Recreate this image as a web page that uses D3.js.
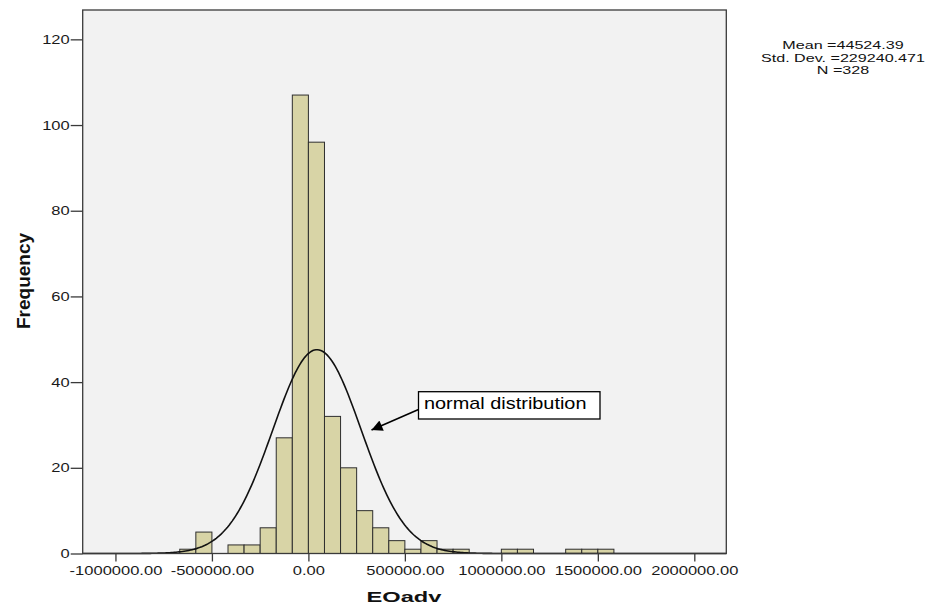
<!DOCTYPE html>
<html>
<head>
<meta charset="utf-8">
<script src="https://cdn.jsdelivr.net/npm/d3@7"></script>
<style>
  html, body { margin: 0; padding: 0; background: #ffffff; }
  svg { display: block; font-family: "Liberation Sans", Arial, sans-serif; }
</style>
</head>
<body>
<svg id="chart" width="934" height="612"></svg>
<script>
// Histogram of EOadv with fitted normal curve
const binWidth = 500000 / 6;
const binIndex = [-8, -7, -6, -5, -4, -3, -2, -1, 0, 1, 2, 3, 4, 5, 6, 7, 8, 9, 10, 11, 12, 13, 14, 15, 16, 17, 18];
const counts   = [ 1,  5,  0,  2,  2,  6, 27, 107, 96, 32, 20, 10, 6, 3, 1, 3, 1, 1, 0, 0, 1, 1, 0, 0, 1, 1, 1];
const xTicks = [-1000000, -500000, 0, 500000, 1000000, 1500000, 2000000];
const yTicks = [0, 20, 40, 60, 80, 100, 120];
const stats = { mean: 44524.39, sd: 229240.471, n: 328 };
const statLines = ["Mean =44524.39", "Std. Dev. =229240.471", "N =328"];
const xTitle = "EOadv";
const yTitle = "Frequency";
const noteText = "normal distribution";

const svg = d3.select("#chart");
const plot = { left: 82.7, right: 726.3, top: 10, bottom: 553.5 };

const x = d3.scaleLinear().domain([-1169700, 2165800]).range([plot.left, plot.right]);
const y = d3.scaleLinear().domain([0, 126.85]).range([plot.bottom, plot.top]);

// stretch text horizontally to the wide look of the original renderer
function widen(sel, k) {
  sel.each(function () {
    const w = this.getComputedTextLength();
    d3.select(this).attr("textLength", w * k).attr("lengthAdjust", "spacingAndGlyphs");
  });
}

// plot area
svg.append("rect")
  .attr("x", plot.left).attr("y", plot.top)
  .attr("width", plot.right - plot.left).attr("height", plot.bottom - plot.top)
  .attr("fill", "#f2f2f2");

// bars
const bins = binIndex.map((b, i) => ({ x0: b * binWidth, x1: (b + 1) * binWidth, n: counts[i] }))
  .filter(d => d.n > 0);
svg.append("g").selectAll("rect").data(bins).join("rect")
  .attr("x", d => x(d.x0))
  .attr("y", d => y(d.n))
  .attr("width", d => x(d.x1) - x(d.x0))
  .attr("height", d => y(0) - y(d.n))
  .attr("fill", "#d8d4a6")
  .attr("stroke", "#2e2e2e")
  .attr("stroke-width", 1);

// fitted normal curve, scaled to counts per bin
const scaleN = stats.n * binWidth / (stats.sd * Math.sqrt(2 * Math.PI));
const xs = d3.range(0, 401).map(i => x.invert(plot.left + (plot.right - plot.left) * i / 400));
const curve = xs.map(v => [v, scaleN * Math.exp(-0.5 * ((v - stats.mean) / stats.sd) ** 2)]);
svg.append("path")
  .datum(curve)
  .attr("fill", "none")
  .attr("stroke", "#111")
  .attr("stroke-width", 1.6)
  .attr("d", d3.line().x(d => x(d[0])).y(d => y(d[1])));

// frame
svg.append("rect")
  .attr("x", plot.left).attr("y", plot.top)
  .attr("width", plot.right - plot.left).attr("height", plot.bottom - plot.top)
  .attr("fill", "none").attr("stroke", "#3a3a3a").attr("stroke-width", 1.3);

// axes
const fmt = d3.formatLocale({ decimal: ".", thousands: ",", grouping: [3], currency: ["", ""], minus: "-" }).format(".2f");
const gx = svg.append("g").attr("transform", `translate(0,${plot.bottom})`)
  .call(d3.axisBottom(x).tickValues(xTicks).tickFormat(fmt).tickSize(8).tickPadding(4));
const gy = svg.append("g").attr("transform", `translate(${plot.left},0)`)
  .call(d3.axisLeft(y).tickValues(yTicks).tickSize(12).tickPadding(1));
[gx, gy].forEach(g => {
  g.select(".domain").remove();
  g.selectAll(".tick line").attr("stroke", "#3a3a3a").attr("stroke-width", 1.3);
  g.selectAll(".tick text").attr("fill", "#1a1a1a").style("font-size", "13px")
    .style("font-family", "'Liberation Sans', Arial, sans-serif");
});
widen(gx.selectAll(".tick text"), 1.27);
widen(gy.selectAll(".tick text"), 1.27);

// axis titles
svg.append("text")
  .attr("transform", "translate(30,281) rotate(-90)")
  .attr("text-anchor", "middle")
  .style("font-size", "19px").style("font-weight", "bold")
  .attr("fill", "#111")
  .text(yTitle);
svg.append("text")
  .attr("x", 404).attr("y", 602)
  .attr("text-anchor", "middle")
  .style("font-size", "15px").style("font-weight", "bold")
  .attr("fill", "#111")
  .text(xTitle)
  .attr("textLength", 75).attr("lengthAdjust", "spacingAndGlyphs");

// summary statistics
const st = svg.append("g").selectAll("text").data(statLines).join("text")
  .attr("x", 843)
  .attr("y", (d, i) => 48.8 + i * 12.8)
  .attr("text-anchor", "middle")
  .style("font-size", "11.5px")
  .attr("fill", "#111")
  .text(d => d);
widen(st, 1.4);

// callout pointing at the curve
const defs = svg.append("defs");
defs.append("marker")
  .attr("id", "arrowhead")
  .attr("viewBox", "0 0 10 10")
  .attr("refX", 10).attr("refY", 5)
  .attr("markerWidth", 13).attr("markerHeight", 11)
  .attr("markerUnits", "userSpaceOnUse")
  .attr("orient", "auto")
  .append("path").attr("d", "M0,0 L10,5 L0,10 Z").attr("fill", "#000");
svg.append("line")
  .attr("x1", 418.5).attr("y1", 409.5)
  .attr("x2", 371.5).attr("y2", 430)
  .attr("stroke", "#000").attr("stroke-width", 1.6)
  .attr("marker-end", "url(#arrowhead)");
svg.append("rect")
  .attr("x", 418.5).attr("y", 391.7).attr("width", 181.5).attr("height", 27.3)
  .attr("fill", "#fff").attr("stroke", "#000").attr("stroke-width", 1.3);
svg.append("text")
  .attr("x", 424).attr("y", 408.5)
  .style("font-size", "17px")
  .attr("fill", "#000")
  .text(noteText)
  .attr("textLength", 162.5).attr("lengthAdjust", "spacingAndGlyphs");
</script>
</body>
</html>
